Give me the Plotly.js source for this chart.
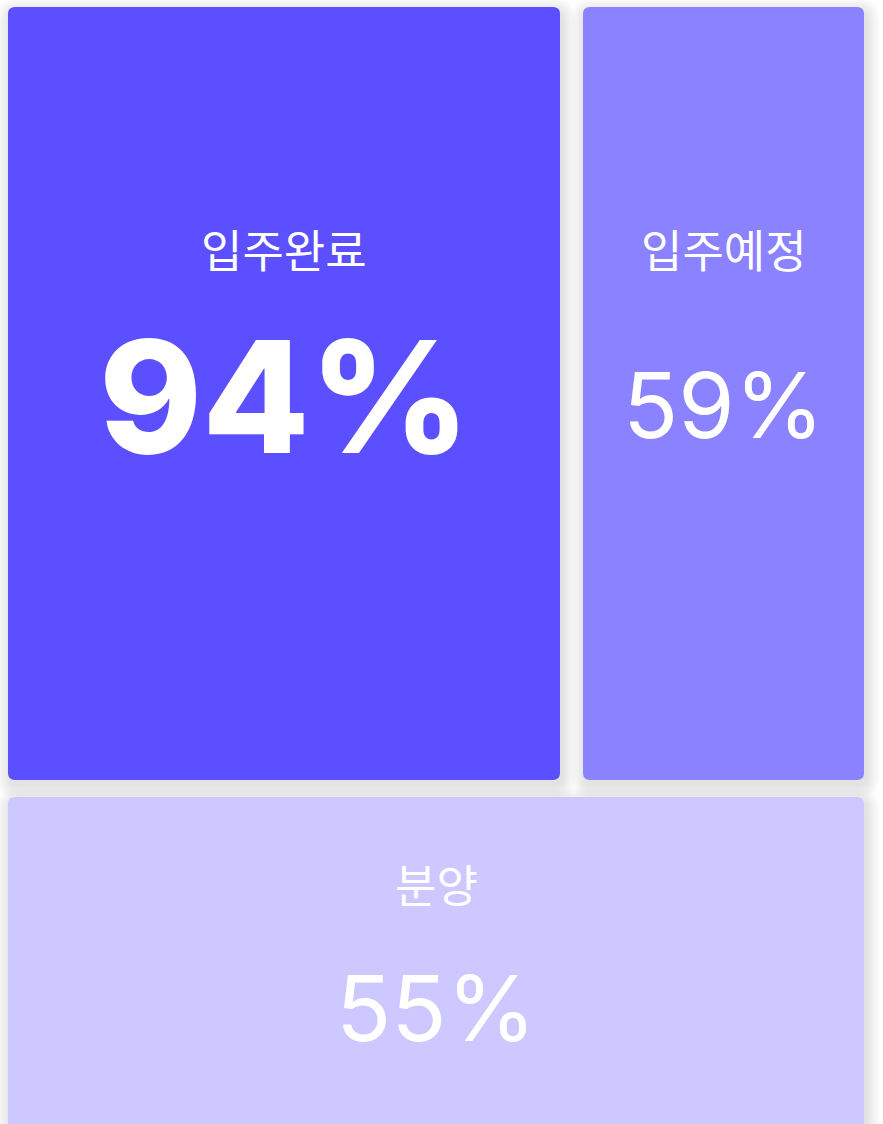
<!DOCTYPE html>
<html>
<head>
<meta charset="utf-8">
<script src="https://cdn.plot.ly/plotly-3.0.1.min.js"></script>
<style>html,body{margin:0;padding:0;background:#fff;}#chart{width:883px;height:1124px;}</style>
</head>
<body>
<div id="chart"></div>
<script>
// Data
const categories = ['입주완료', '입주예정', '분양'];
const values = [94, 59, 55];

// Styles / layout boxes (pixel space: x0, x1, y0, y1)
const tileColors = ['#5b4fff', '#8b82ff', '#cdc8ff'];
const tileBoxes = [[8, 560, 7, 780], [583, 864, 7, 780], [8, 864, 797, 1140]];
const labelY = [248, 248, 883];
const valueY = [396, 405, 1008];
const valueSize = [156, 91, 91];
const valueWeight = [800, 400, 400];
const labelSize = 45;
const radius = 7;

function roundRect(x0, x1, y0, y1, r) {
  return `M${x0 + r},${y0} L${x1 - r},${y0} Q${x1},${y0} ${x1},${y0 + r} L${x1},${y1 - r} Q${x1},${y1} ${x1 - r},${y1} L${x0 + r},${y1} Q${x0},${y1} ${x0},${y1 - r} L${x0},${y0 + r} Q${x0},${y0} ${x0 + r},${y0} Z`;
}

const shapes = [];
// soft shadows
tileBoxes.forEach(b => {
  for (let i = 14; i >= 1; i--) {
    shapes.push({
      type: 'path', xref: 'x', yref: 'y', layer: 'below',
      path: roundRect(b[0] - i + 2, b[1] + i + 2, b[2] - i + 5, b[3] + i + 5, radius + i),
      fillcolor: 'rgba(0,0,0,0.0065)', line: {width: 0}
    });
  }
});
tileBoxes.forEach((b, i) => {
  shapes.push({
    type: 'path', xref: 'x', yref: 'y', layer: 'below',
    path: roundRect(b[0], b[1], b[2], b[3], radius),
    fillcolor: tileColors[i], line: {width: 0}
  });
});

const annotations = [];
categories.forEach((c, i) => {
  const b = tileBoxes[i];
  const cx = (b[0] + b[1]) / 2;
  annotations.push({
    x: cx, y: labelY[i], xref: 'x', yref: 'y', text: c, showarrow: false,
    xanchor: 'center', yanchor: 'middle',
    font: {family: 'Noto Sans CJK KR, Noto Sans, sans-serif', size: labelSize, color: '#ffffff'}
  });
  annotations.push({
    x: cx, y: valueY[i], xref: 'x', yref: 'y', text: values[i] + '%', showarrow: false,
    xanchor: 'center', yanchor: 'middle',
    font: {family: 'Inter, Roboto, sans-serif', size: valueSize[i], color: '#ffffff', weight: valueWeight[i]}
  });
});

const layout = {
  width: 883, height: 1124,
  margin: {l: 0, r: 0, t: 0, b: 0},
  paper_bgcolor: '#ffffff', plot_bgcolor: '#ffffff',
  xaxis: {range: [0, 883], visible: false, fixedrange: true},
  yaxis: {range: [1124, 0], visible: false, fixedrange: true},
  shapes: shapes, annotations: annotations, showlegend: false
};

Plotly.newPlot('chart', [{x: [], y: [], type: 'scatter', hoverinfo: 'skip'}], layout, {staticPlot: true, displayModeBar: false});
</script>
</body>
</html>
